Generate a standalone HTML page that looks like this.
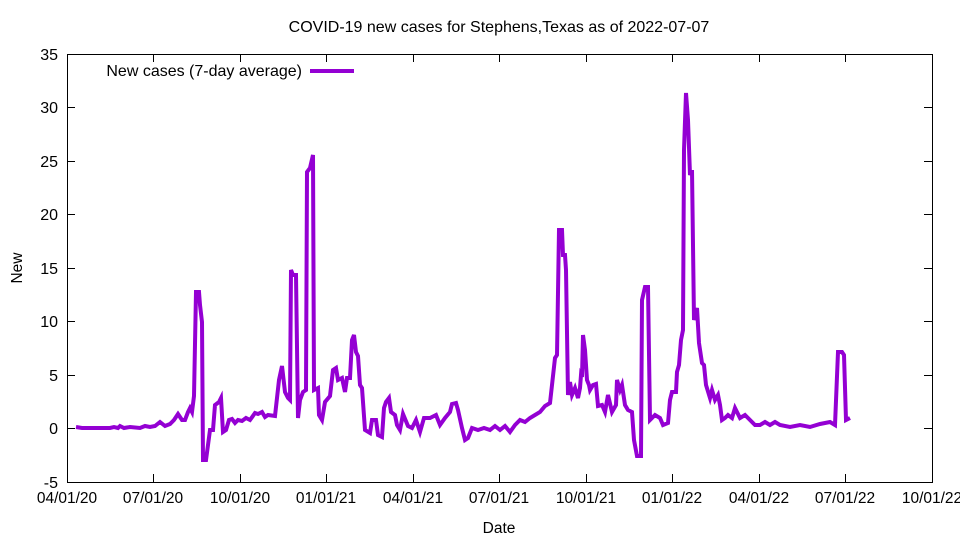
<!DOCTYPE html>
<html><head><meta charset="utf-8"><style>
body{margin:0;background:#fff}
svg{display:block;font-family:"Liberation Sans",sans-serif}
</style></head><body>
<svg width="960" height="540" viewBox="0 0 960 540">
<rect x="0" y="0" width="960" height="540" fill="#fff"/>
<text x="499" y="32" font-size="16" text-anchor="middle">COVID-19 new cases for Stephens,Texas as of 2022-07-07</text>
<g stroke="#000" stroke-width="1" fill="none">
<rect x="67.5" y="54.5" width="865" height="428"/>
<path d="M67 54.5h8M932 54.5h-8 M67 107.5h8M932 107.5h-8 M67 161.5h8M932 161.5h-8 M67 214.5h8M932 214.5h-8 M67 268.5h8M932 268.5h-8 M67 321.5h8M932 321.5h-8 M67 375.5h8M932 375.5h-8 M67 428.5h8M932 428.5h-8
M153.5 482v-8M153.5 54v8 M240.5 482v-8M240.5 54v8 M326.5 482v-8M326.5 54v8 M413.5 482v-8M413.5 54v8 M499.5 482v-8M499.5 54v8 M586.5 482v-8M586.5 54v8 M672.5 482v-8M672.5 54v8 M759.5 482v-8M759.5 54v8 M845.5 482v-8M845.5 54v8"/>
</g>
<g font-size="16" text-anchor="end">
<text x="58" y="60">35</text><text x="58" y="113">30</text><text x="58" y="167">25</text><text x="58" y="220">20</text><text x="58" y="274">15</text><text x="58" y="327">10</text><text x="58" y="381">5</text><text x="58" y="434">0</text><text x="58" y="488">-5</text>
</g>
<g font-size="15.5" text-anchor="middle">
<text x="67" y="503">04/01/20</text><text x="153" y="503">07/01/20</text><text x="240" y="503">10/01/20</text><text x="326" y="503">01/01/21</text><text x="413" y="503">04/01/21</text><text x="499" y="503">07/01/21</text><text x="586" y="503">10/01/21</text><text x="672" y="503">01/01/22</text><text x="759" y="503">04/01/22</text><text x="845" y="503">07/01/22</text><text x="932" y="503">10/01/22</text>
<text x="499" y="533">Date</text>
<text x="22" y="268" transform="rotate(-90 22 268)">New</text>
</g>
<text x="302" y="76" font-size="16" text-anchor="end">New cases (7-day average)</text>
<line x1="310" y1="71" x2="354" y2="71" stroke="#9400D3" stroke-width="4"/>
<polyline fill="none" stroke="#9400D3" stroke-width="4" stroke-linejoin="miter" points="76,427 82,428 110,428 114,427 118,428 120,426 124,428 130,427 140,428 145,426 150,427 155,426 160,422 165,426 170,424 174,420 178,414 182,420 185,420 188,412 190,408 192,412 194,396 196,292 199,292 200,305 202,322 203,460 206,460 208,445 210,430 213,430 215,405 219,402 221,398 223,432 226,430 229,420 232,419 235,423 238,420 242,421 246,418 250,420 255,413 258,414 262,412 265,417 268,415 275,416 279,380 282,366 285,392 288,398 290,400 291,270 293,275 296,275 298,418 300,400 303,392 306,390 307,172 310,168 313,155 314,390 318,388 319,415 322,420 325,402 330,396 333,370 336,368 338,380 342,378 345,392 347,378 350,378 352,340 354,335 356,352 358,356 360,385 362,388 365,430 370,433 372,420 376,420 378,435 382,437 384,408 386,402 389,398 391,412 395,415 397,425 400,430 403,414 408,426 412,428 416,420 420,432 424,418 430,418 436,415 440,425 445,418 450,412 452,404 456,403 458,410 462,428 465,440 468,438 472,428 478,430 484,428 490,430 495,426 500,430 505,426 510,432 515,425 520,420 525,422 530,418 535,415 540,412 545,406 550,403 555,358 557,355 559,230 562,230 563,255 565,255 566,270 568,395 570,382 572,395 575,388 578,398 580,388 581,375 582,377 583,335 585,350 587,380 589,385 590,390 593,385 596,384 598,406 602,405 605,412 608,395 612,412 616,405 617,380 620,390 622,385 625,405 628,410 632,412 634,440 637,456 641,456 642,300 645,287 648,287 650,420 655,415 660,418 663,425 668,423 670,400 672,392 676,392 677,372 679,365 681,340 683,330 684,150 686,93 688,120 690,175 692,170 694,320 697,308 699,343 702,363 704,365 706,385 710,398 712,390 715,400 718,395 720,405 722,420 725,418 728,415 732,418 735,408 740,418 745,415 750,420 755,425 760,425 765,422 770,425 775,422 780,425 790,427 800,425 810,427 820,424 830,422 835,425 838,352 842,352 844,355 846,420 850,418"/>
</svg>
</body></html>
